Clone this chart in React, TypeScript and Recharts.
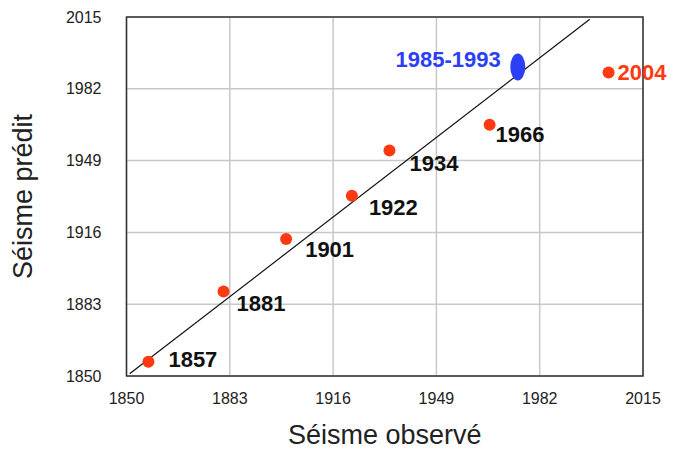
import React from 'react';
import { ScatterChart, Scatter, XAxis, YAxis, CartesianGrid, ReferenceLine, ReferenceArea, LabelList } from 'recharts';

const ticks = [1850, 1883, 1916, 1949, 1982, 2015];
const eqLabels = ['1857', '1881', '1901', '1922', '1934', '1966'];
const eqObserved = [1857, 1881, 1901, 1922, 1934, 1966];
const eqPredicted = [1856.6, 1888.8, 1913, 1932.8, 1953.6, 1965.5];
const lateObserved = [2004];
const latePredicted = [1989.5];
const windowObserved = [1975];
const windowPredicted = [1992];
const windowLabel = '1985-1993';
const fitLine = [{ x: 1851, y: 1851 }, { x: 1998, y: 2014 }];

const eqData = eqObserved.map((x, i) => ({ x, y: eqPredicted[i], label: eqLabels[i] }));
const lateData = lateObserved.map((x, i) => ({ x, y: latePredicted[i], label: String(x) }));
const windowData = windowObserved.map((x, i) => ({ x, y: windowPredicted[i], label: windowLabel }));

const RED = '#ff3a12';
const BLUE = '#2b40f5';
const FONT = '"Liberation Sans", Arial, Helvetica, sans-serif';

const labelOffsets: Record<string, [number, number]> = {
  '1857': [20, -2],
  '1881': [13, 12],
  '1901': [19, 11],
  '1922': [17, 12],
  '1934': [20, 13],
  '1966': [6, 10],
  '2004': [9, 0],
};

const Dot = (props: any) => <circle cx={props.cx} cy={props.cy} r={6} fill={RED} />;
const Oval = (props: any) => <ellipse cx={props.cx} cy={props.cy} rx={7.5} ry={13.5} fill={BLUE} />;

const makeLabel = (color: string) => (props: any) => {
  const { x, y, width, height, value } = props;
  const cx = x + (width || 0) / 2;
  const cy = y + (height || 0) / 2;
  const off = labelOffsets[value] || [18, 12];
  return (
    <text x={cx + off[0]} y={cy + off[1]} fill={color} fontSize={22} fontWeight="bold" fontFamily={FONT} textAnchor="start" dominantBaseline="central">
      {value}
    </text>
  );
};

const WindowLabel = (props: any) => {
  const { x, y, width, height, value } = props;
  const cx = x + (width || 0) / 2;
  const cy = y + (height || 0) / 2;
  return (
    <text x={cx - 17} y={cy - 8} fill={BLUE} fontSize={22} fontWeight="bold" fontFamily={FONT} textAnchor="end" dominantBaseline="central">
      {value}
    </text>
  );
};

export default function App() {
  return (
    <div style={{ position: 'absolute', left: 0, top: 0, width: 681, height: 452, background: '#fff' }}>
      <ScatterChart width={681} height={452} margin={{ top: 17, right: 38, bottom: 0, left: 0 }}>
        <CartesianGrid stroke="#c8c8c8" strokeWidth={1.5} horizontalValues={ticks} verticalValues={ticks} />
        <XAxis
          type="number"
          dataKey="x"
          domain={[1850, 2015]}
          ticks={ticks}
          height={76}
          axisLine={false}
          tickLine={false}
          tickMargin={11}
          tick={{ fill: '#222', fontSize: 16, fontFamily: FONT }}
          label={{ value: 'Séisme observé', position: 'insideBottom', offset: 0, dy: -8, style: { fontSize: 27, fill: '#222', fontFamily: FONT } }}
          allowDataOverflow
        />
        <YAxis
          type="number"
          dataKey="y"
          domain={[1850, 2015]}
          ticks={ticks}
          width={126.5}
          axisLine={false}
          tickLine={false}
          tickMargin={19}
          tick={{ fill: '#222', fontSize: 16, fontFamily: FONT }}
          label={{ value: 'Séisme prédit', angle: -90, position: 'insideLeft', offset: 0, dx: 22, style: { fontSize: 27, fill: '#222', fontFamily: FONT, textAnchor: 'middle' } }}
          allowDataOverflow
        />
        <ReferenceArea x1={1850} x2={2015} y1={1850} y2={2015} fill="none" stroke="#333" strokeWidth={1.5} />
        <ReferenceLine segment={fitLine} stroke="#111" strokeWidth={1.2} />
        <Scatter data={eqData} shape={Dot} isAnimationActive={false}>
          <LabelList dataKey="label" content={makeLabel('#111')} />
        </Scatter>
        <Scatter data={lateData} shape={Dot} isAnimationActive={false}>
          <LabelList dataKey="label" content={makeLabel(RED)} />
        </Scatter>
        <Scatter data={windowData} shape={Oval} isAnimationActive={false}>
          <LabelList dataKey="label" content={WindowLabel} />
        </Scatter>
      </ScatterChart>
    </div>
  );
}
